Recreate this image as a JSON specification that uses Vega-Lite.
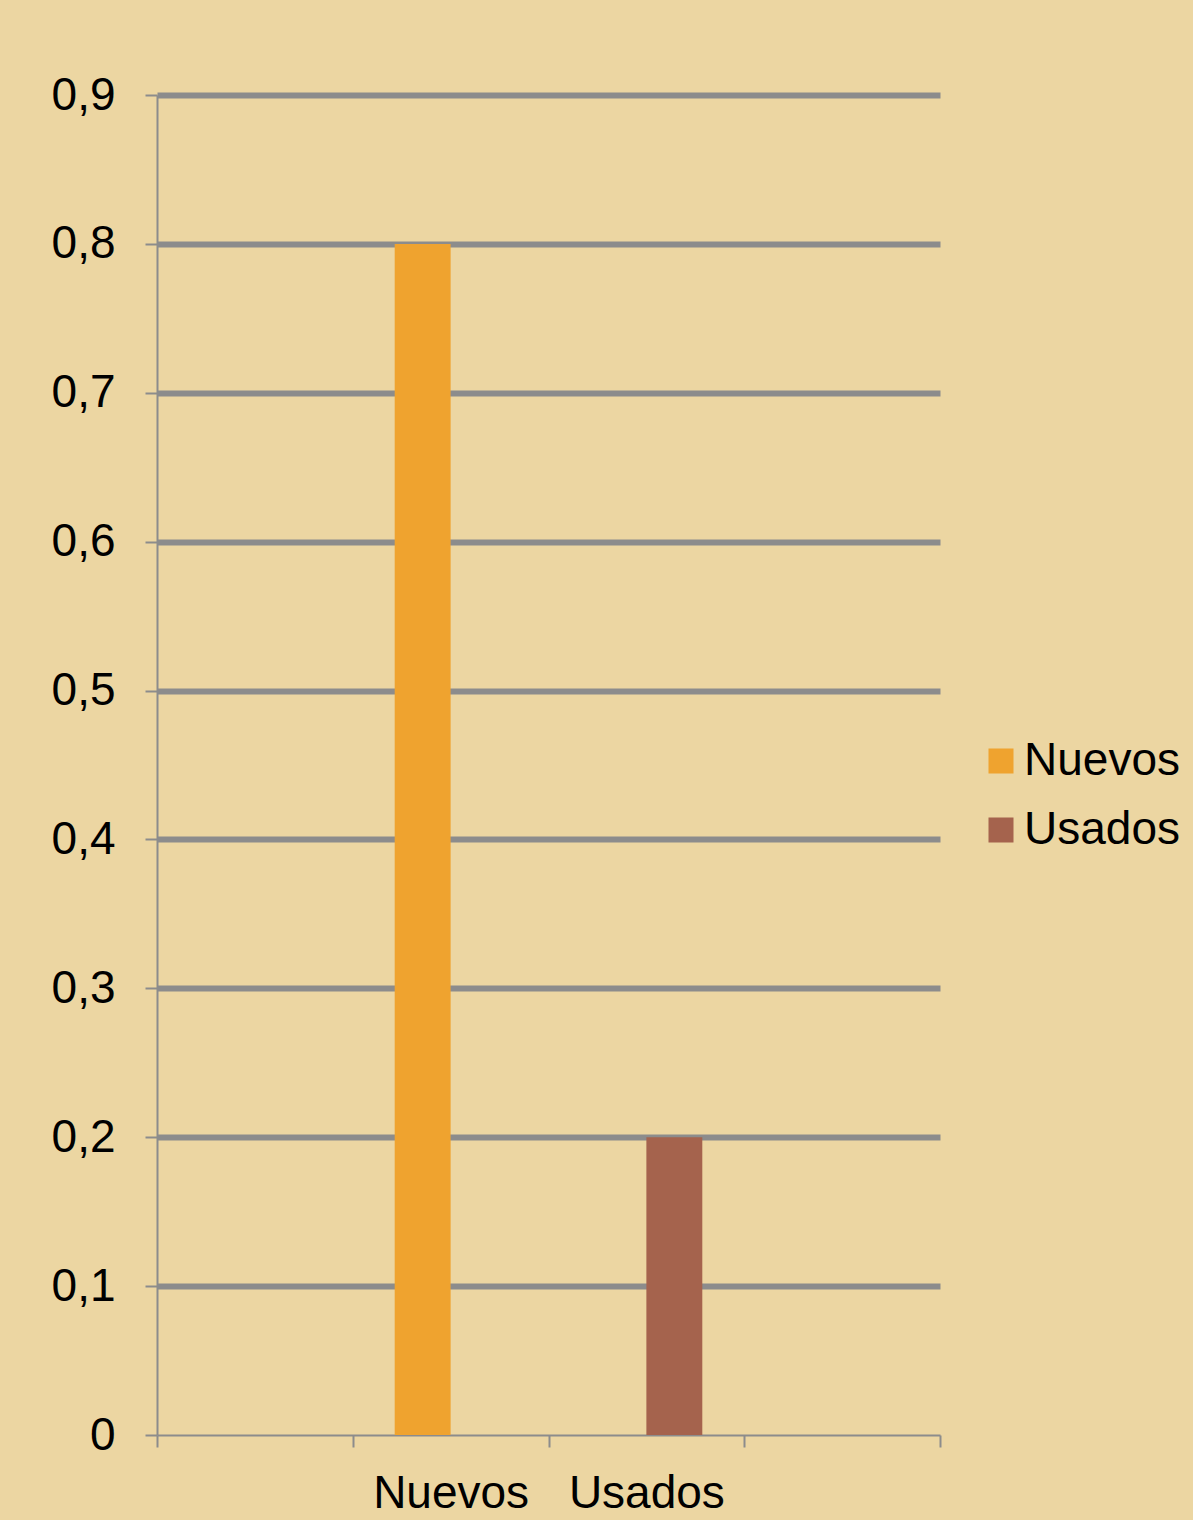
{
  "$schema": "https://vega.github.io/schema/vega-lite/v6.json",
  "width": 783,
  "height": 1340,
  "autosize": {"type": "none"},
  "padding": {"left": 157, "top": 95, "right": 253, "bottom": 85},
  "background": "#ECD6A2",
  "data": {
    "values": [
      {"categoria": "Nuevos", "serie": "Nuevos", "valor": 0.8},
      {"categoria": "Usados", "serie": "Usados", "valor": 0.2}
    ]
  },
  "mark": {"type": "bar"},
  "encoding": {
    "x": {
      "field": "categoria",
      "type": "nominal",
      "sort": null,
      "scale": {"domain": ["_a", "Nuevos", "Usados", "_b"], "paddingInner": 0, "paddingOuter": 0},
      "axis": {
        "title": null,
        "labelAngle": 0,
        "labelExpr": "datum.value === 'Nuevos' || datum.value === 'Usados' ? datum.value : ''",
        "tickBand": "extent",
        "tickSize": 12,
        "tickColor": "#8C8C8C",
        "tickWidth": 2,
        "domainColor": "#8C8C8C",
        "domainWidth": 2,
        "labelFont": "Liberation Sans",
        "labelFontSize": 46,
        "labelColor": "#000000",
        "labelPadding": 24,
        "grid": false
      }
    },
    "xOffset": {
      "field": "serie",
      "type": "nominal",
      "scale": {"domain": ["Nuevos", "Usados"], "paddingInner": 0, "paddingOuter": 0.75}
    },
    "y": {
      "field": "valor",
      "type": "quantitative",
      "scale": {"domain": [0, 0.9], "nice": false},
      "axis": {
        "title": null,
        "values": [0, 0.1, 0.2, 0.3, 0.4, 0.5, 0.6, 0.7, 0.8, 0.9],
        "labelExpr": "replace(format(datum.value, '.1~f'), '.', ',')",
        "tickSize": 12,
        "tickColor": "#8C8C8C",
        "tickWidth": 2,
        "domainColor": "#8C8C8C",
        "domainWidth": 2,
        "labelFont": "Liberation Sans",
        "labelFontSize": 46,
        "labelColor": "#000000",
        "labelPadding": 30,
        "grid": true,
        "gridColor": "#8C8C8C",
        "gridWidth": {"condition": {"test": "datum.value === 0", "value": 0}, "value": 6}
      }
    },
    "color": {
      "field": "serie",
      "type": "nominal",
      "scale": {"domain": ["Nuevos", "Usados"], "range": ["#EFA32F", "#A5634D"]},
      "legend": {
        "title": null,
        "orient": "none",
        "legendX": 821,
        "legendY": 643,
        "padding": 0,
        "symbolType": "square",
        "symbolSize": 625,
        "symbolStrokeWidth": 0,
        "labelFont": "Liberation Sans",
        "labelFontSize": 46,
        "labelColor": "#000000",
        "labelOffset": 0,
        "rowPadding": 23
      }
    }
  },
  "config": {
    "view": {"stroke": null},
    "axis": {"labelFont": "Liberation Sans"}
  }
}
